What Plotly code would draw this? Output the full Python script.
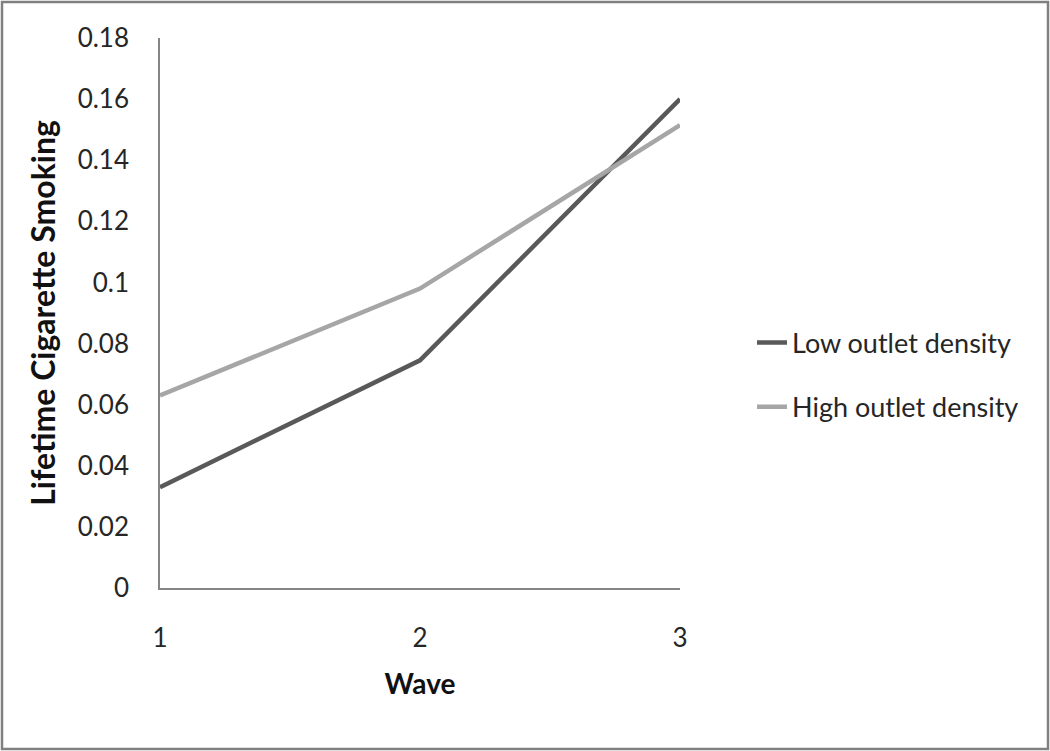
import plotly.graph_objects as go

# ── Data ────────────────────────────────────────────────────────────────────
waves = [1, 2, 3]
low_density = [0.033, 0.0745, 0.160]
high_density = [0.063, 0.098, 0.1515]
y_ticks = [0, 0.02, 0.04, 0.06, 0.08, 0.1, 0.12, 0.14, 0.16, 0.18]
y_tick_text = ['0', '0.02', '0.04', '0.06', '0.08', '0.1', '0.12', '0.14', '0.16', '0.18']

FONT = 'Lato'
W, H = 1050, 751
L, R, T, B = 160, 370, 38, 163

fig = go.Figure()

fig.add_trace(go.Scatter(
    x=waves, y=low_density, name='Low outlet density',
    mode='lines', legendgroup='low',
    line=dict(color='#595959', width=4.5),
))
fig.add_trace(go.Scatter(
    x=waves, y=high_density, name='High outlet density',
    mode='lines', legendgroup='high',
    line=dict(color='#a6a6a6', width=4.5),
))

# outer border around the whole picture
pw, ph = W - L - R, H - T - B
fig.add_shape(
    type='rect', xref='paper', yref='paper',
    x0=(2 - L) / pw, x1=(W - 2 - L) / pw,
    y0=(H - B - (H - 2)) / ph, y1=(H - B - 2) / ph,
    line=dict(color='#808080', width=2.5), layer='below',
)

fig.update_layout(
    width=W, height=H,
    paper_bgcolor='white', plot_bgcolor='white',
    margin=dict(l=L, r=R, t=T, b=B),
    font=dict(family=FONT, size=26, color='#262626'),
    xaxis=dict(
        range=[1, 3], tickvals=waves, ticks='',
        showgrid=False, zeroline=False,
        showline=True, linecolor='#868686', linewidth=1.5,
        tickfont=dict(size=26, color='#262626'),
        ticklabelstandoff=26,
        title=dict(text='<b>Wave</b>', font=dict(size=28, color='#111111'), standoff=22),
    ),
    yaxis=dict(
        range=[0, 0.18], tickvals=y_ticks, ticktext=y_tick_text, ticks='',
        showgrid=False, zeroline=False,
        showline=True, linecolor='#868686', linewidth=1.5,
        tickfont=dict(size=26, color='#262626'),
        ticklabelstandoff=24,
        title=dict(text='<b>Lifetime Cigarette Smoking</b>',
                   font=dict(size=32, color='#111111'), standoff=12),
    ),
    showlegend=True,
    legend=dict(
        x=(752 - L) / pw, y=(H - B - 375) / ph, xanchor='left', yanchor='middle',
        font=dict(size=27, color='#262626'),
        tracegroupgap=26, traceorder='grouped',
        bgcolor='rgba(0,0,0,0)',
    ),
)

fig.write_html(
    "out.html",
    config={'displayModeBar': False},
    post_script="document.body.style.margin='0';",
)
